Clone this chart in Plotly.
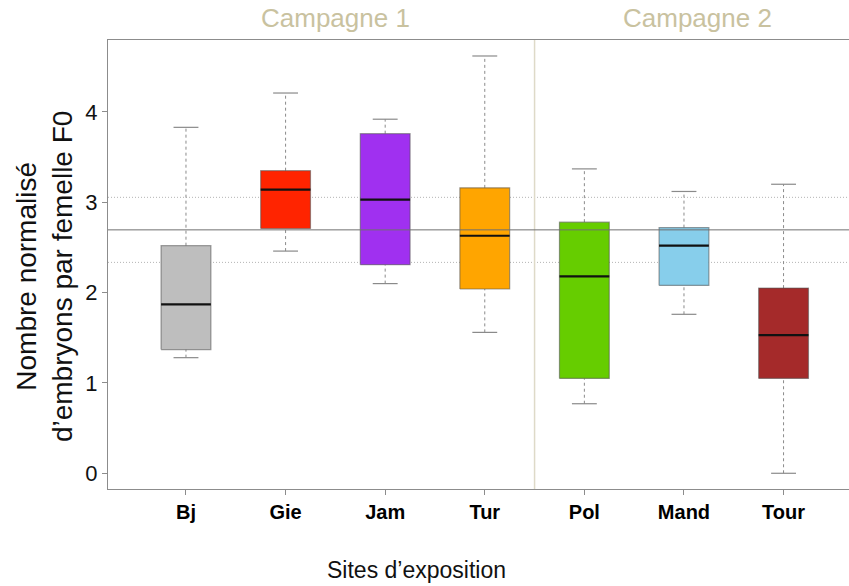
import plotly.graph_objects as go

# Exposure sites (x categories) and their campaign grouping
sites = ["Bj", "Gie", "Jam", "Tur", "Pol", "Mand", "Tour"]
campaign_labels = ["Campagne 1", "Campagne 2"]
campaign_label_pos = [2.5, 6.14]
campaign_split = 4.5

# Box-plot statistics per site (normalised number of embryos per F0 female)
lower_whisker = [1.28, 2.46, 2.10, 1.56, 0.77, 1.76, 0.00]
q1 = [1.37, 2.71, 2.31, 2.04, 1.05, 2.08, 1.05]
median = [1.87, 3.14, 3.03, 2.63, 2.18, 2.52, 1.53]
q3 = [2.52, 3.35, 3.76, 3.16, 2.78, 2.72, 2.05]
upper_whisker = [3.83, 4.21, 3.92, 4.62, 3.37, 3.12, 3.20]

box_colors = ["#BEBEBE", "#FF2400", "#A030F0", "#FFA500", "#66CD00", "#87CEEB", "#A52A2A"]

# Reference level: overall mean and +/- one standard deviation
overall_mean = 2.695
overall_sd = 0.36

y_ticks = [0, 1, 2, 3, 4]

FONT = "Liberation Sans, Arial, Helvetica, sans-serif"
AXIS_GREY = "#8c8c8c"
WHISKER_GREY = "#8a8a8a"

BOX_HALF = 0.25
CAP_HALF = 0.125

fig = go.Figure()

for i, site in enumerate(sites):
    p = i + 1
    # whiskers (dashed)
    for y0, y1 in ((q3[i], upper_whisker[i]), (lower_whisker[i], q1[i])):
        fig.add_trace(go.Scatter(
            x=[p, p], y=[y0, y1], mode="lines",
            line=dict(color=WHISKER_GREY, width=1, dash="3px,3px"),
            hoverinfo="skip", showlegend=False))
    # whisker caps
    for yv in (upper_whisker[i], lower_whisker[i]):
        fig.add_trace(go.Scatter(
            x=[p - CAP_HALF, p + CAP_HALF], y=[yv, yv], mode="lines",
            line=dict(color=WHISKER_GREY, width=1.2),
            hoverinfo="skip", showlegend=False))
    # box body
    fig.add_trace(go.Scatter(
        x=[p - BOX_HALF, p + BOX_HALF, p + BOX_HALF, p - BOX_HALF, p - BOX_HALF],
        y=[q1[i], q1[i], q3[i], q3[i], q1[i]],
        mode="lines", fill="toself", fillcolor=box_colors[i],
        line=dict(color="rgba(80,80,80,0.55)", width=1.2),
        name=site, hoverinfo="skip", showlegend=False))
    # median
    fig.add_trace(go.Scatter(
        x=[p - BOX_HALF, p + BOX_HALF], y=[median[i], median[i]], mode="lines",
        line=dict(color="#111111", width=2.2),
        hoverinfo="skip", showlegend=False))

# mean +/- sd (dotted, behind boxes)
for yv in (overall_mean + overall_sd, overall_mean - overall_sd):
    fig.add_shape(type="line", xref="paper", x0=0, x1=1, yref="y", y0=yv, y1=yv,
                  line=dict(color="#b4b4b4", width=1, dash="1px,2px"), layer="below")
# overall mean (solid, on top)
fig.add_shape(type="line", xref="paper", x0=0, x1=1, yref="y",
              y0=overall_mean, y1=overall_mean,
              line=dict(color="#707070", width=1), layer="above")
# campaign separator
fig.add_shape(type="line", xref="x", x0=campaign_split, x1=campaign_split,
              yref="paper", y0=0, y1=1,
              line=dict(color="#dedac8", width=1.5), layer="below")

for label, xpos in zip(campaign_labels, campaign_label_pos):
    fig.add_annotation(text=label, xref="x", x=xpos, yref="paper", y=1.049,
                       xanchor="center", yanchor="middle", showarrow=False,
                       font=dict(family=FONT, size=26, color="#c9c29f"))

fig.add_annotation(text="Nombre normalisé<br>d’embryons par femelle F0",
                   xref="paper", x=-0.0865, yref="paper", y=0.474,
                   textangle=-90, xanchor="center", yanchor="middle",
                   showarrow=False, align="center",
                   font=dict(family=FONT, size=28, color="#111111"))

fig.add_annotation(text="Sites d’exposition", xref="paper", x=0.417,
                   yref="paper", y=-0.18, xanchor="center", yanchor="middle",
                   showarrow=False,
                   font=dict(family=FONT, size=23, color="#111111"))

fig.update_layout(
    width=849, height=586,
    margin=dict(l=108, r=0, t=40, b=97),
    paper_bgcolor="white", plot_bgcolor="white",
    showlegend=False,
    xaxis=dict(range=[0.217, 7.657], tickmode="array",
               tickvals=list(range(1, len(sites) + 1)),
               ticktext=[f"<b>{s}</b>" for s in sites],
               ticks="outside", ticklen=5, tickcolor=AXIS_GREY,
               showline=True, linecolor=AXIS_GREY, linewidth=1, mirror=True,
               showgrid=False, zeroline=False,
               tickfont=dict(family=FONT, size=20, color="#000000")),
    yaxis=dict(range=[-0.174, 4.797], tickmode="array", tickvals=y_ticks,
               ticks="outside", ticklen=5, tickcolor=AXIS_GREY,
               showline=True, linecolor=AXIS_GREY, linewidth=1, mirror=False,
               showgrid=False, zeroline=False,
               tickfont=dict(family=FONT, size=22, color="#111111")),
)

fig.write_html("out.html")
